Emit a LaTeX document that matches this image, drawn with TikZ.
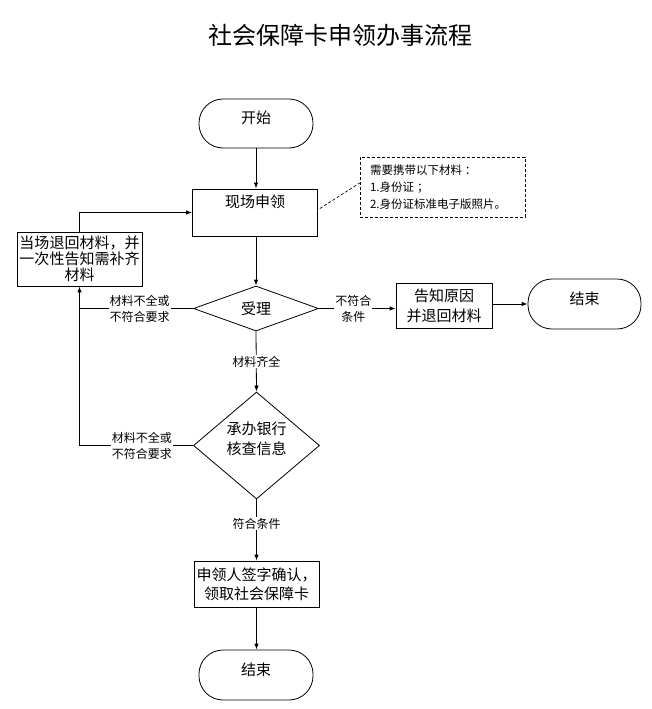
\documentclass[tikz,border=0pt]{standalone}
\usepackage{fontspec}
\setmainfont{Noto Sans CJK SC}
\usetikzlibrary{shapes.geometric,arrows.meta}

\begin{document}
\begin{tikzpicture}[
    x=1pt, y=-1pt,
    line width=0.8pt,
    arrow/.style={-{Latex[length=6pt,width=4.5pt]}},
    terminal/.style={draw, rounded corners=24pt, minimum width=114pt, minimum height=49pt, text height=13pt, text depth=13pt, font={\fontsize{15pt}{18pt}\selectfont}},
    process/.style={draw, align=center, minimum width=125pt, inner xsep=2pt, font={\fontsize{15pt}{20pt}\selectfont}},
    decision/.style={draw, diamond, aspect=1, inner sep=0pt, align=center, font={\fontsize{15pt}{20pt}\selectfont}},
    cond/.style={fill=white, inner sep=1pt, align=center, font={\fontsize{12pt}{16pt}\selectfont}}
]
    \useasboundingbox (0,0) rectangle (651,709);

    \node[font={\fontsize{24pt}{28pt}\selectfont}] (title) at (340,35) {社会保障卡申领办事流程};

    % Draw main column
    \node[terminal] (start) at (256,123.5) {开始};
    \node[process, minimum height=47pt, inner ysep=3pt, text height=15.7pt, text depth=25.3pt] (apply) at (255,212.5) {现场申领};
    \node[decision, minimum width=125pt, minimum height=45pt] (accept) at (256,308.5) {受理};
    \node[decision, minimum width=126pt, minimum height=107pt, text height=26pt, text depth=9pt] (check) at (256.5,445.5) {承办银行\\核查信息};
    \node[process, minimum height=46pt, font={\fontsize{15pt}{19pt}\selectfont}] (sign) at (256.5,584) {申领人签字确认，\\领取社会保障卡};
    \node[terminal, minimum height=50pt] (endB) at (256,675) {结束};

    % Draw side boxes
    \node[draw, dash pattern=on 3pt off 2pt, line width=0.7pt, minimum width=165pt, minimum height=60pt,
          text width=145pt, inner xsep=10pt, align=left, font={\fontsize{11.5pt}{17pt}\selectfont}] (note) at (442.5,187)
          {需要携带以下材料\hspace{3pt}：\\1.身份证\hspace{3pt}；\\2.身份证标准电子版照片。};
    \node[process, minimum height=54pt, inner ysep=2pt, font={\fontsize{15pt}{16pt}\selectfont}] (back) at (79.5,259) {当场退回材料，并\\一次性告知需补齐\\材料};
    \node[process, minimum width=96pt, minimum height=45pt] (inform) at (444,305.5) {告知原因\\并退回材料};
    \node[terminal, minimum width=113pt, minimum height=50pt] (endA) at (584.5,304) {结束};

    % Draw connectors
    \draw[arrow] (start.south) -- (start.south |- apply.north);
    \draw[arrow] (accept.north |- apply.south) -- (accept.north);
    \draw[arrow] (accept.south) -- node[cond] {材料齐全} (check.north);
    \draw[arrow] (check.south) -- node[cond, pos=0.4] {符合条件} (check.south |- sign.north);
    \draw[arrow] (sign.south) -- (sign.south |- endB.north);
    \draw[arrow] (accept.east) -- node[cond, pos=0.45] {不符合\\条件} (accept.east -| inform.west);
    \draw[arrow] (inform.east |- endA.west) -- (endA.west);
    \draw[dash pattern=on 3pt off 2pt, line width=0.7pt] ([xshift=2pt,yshift=4pt]apply.east) -- ([yshift=4pt]note.west);

    % Draw return paths
    \draw (accept.west) -- node[cond, pos=0.47] {材料不全或\\不符合要求} (accept.west -| back.south);
    \draw[arrow] (check.west) -| node[cond, pos=0.225] {材料不全或\\不符合要求} (back.south);
    \draw[arrow] (back.north) |- (apply.west);

\end{tikzpicture}
\end{document}
